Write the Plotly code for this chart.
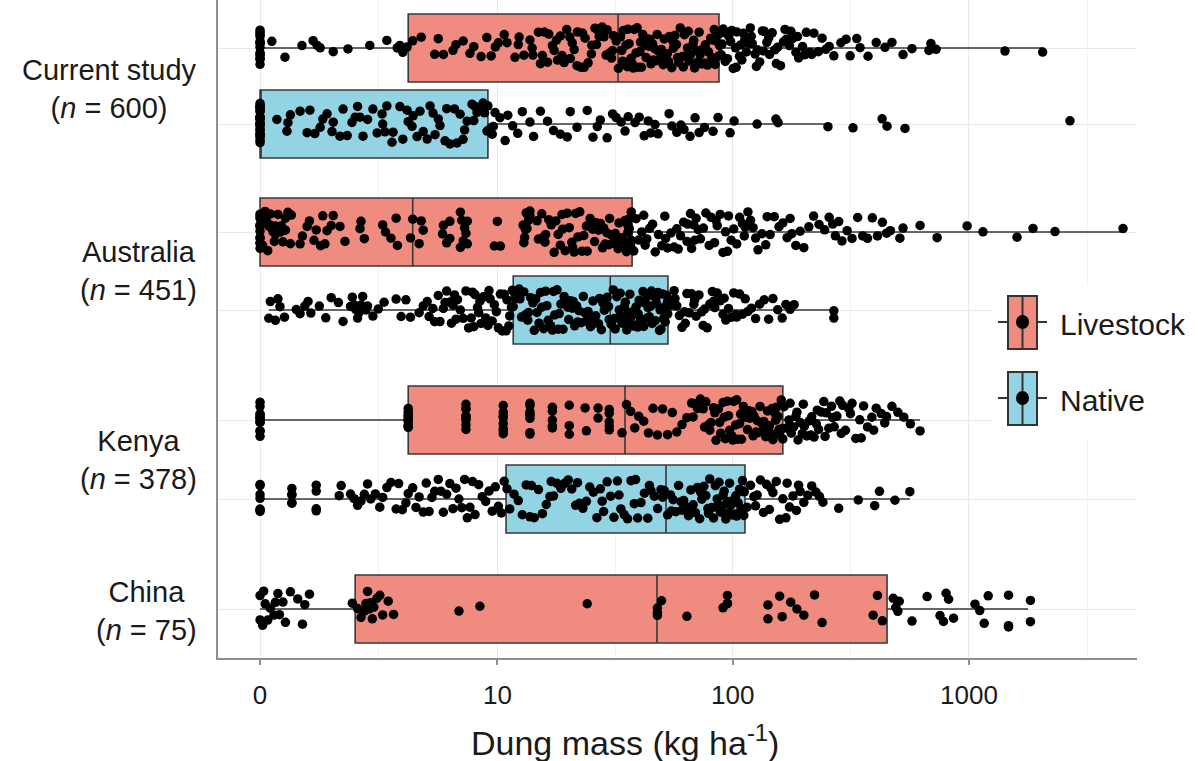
import numpy as np
import plotly.graph_objects as go

# ---------------- data (dung mass, kg ha-1) ----------------
countries = ["Current study", "Australia", "Kenya", "China"]
country_n = [600, 451, 378, 75]
row_country = ["Current study", "Current study", "Australia", "Australia", "Kenya", "Kenya", "China"]
row_type = ["Livestock", "Native", "Livestock", "Native", "Livestock", "Native", "Livestock"]

box_lower = [0, 0, 0, 0.17, 0, 0, 0]
box_q1 = [4.0, 0, 0, 11.7, 4.0, 10.9, 2.13]
box_median = [32.7, 0, 4.2, 30.3, 35.0, 52.2, 47.8]
box_q3 = [87.5, 9.1, 37.5, 53.2, 163, 112.7, 450]
box_upper = [2050, 253, 4570, 271, 621, 562, 1778]

cs_livestock = [
    0, 0, 0, 0, 0, 0, 0, 0, 0, 0, 0, 0, 0, 0,
    0.23, 0.49, 0.84, 1.08, 1.17, 1.24, 1.55, 1.93, 2.57, 3.15, 3.54, 3.65, 3.77, 3.95,
    4.2, 4.6, 5.3, 5.5, 5.8, 6.4, 6.6, 7.1, 7.6, 7.9, 8.5, 9.0, 9.4, 9.8, 10.1,
    10.7, 11.0, 11.9, 12.3, 12.4, 13.0, 13.8, 14.1, 14.2, 15.0, 15.3, 15.9, 16.4, 16.6, 17.2,
    17.5, 17.9, 18.6, 18.9, 19.3, 19.8, 20.4, 20.5, 21.3, 21.9, 22.0, 22.8, 23.5, 23.7, 24.4,
    25.2, 25.3, 26.1, 26.9, 27.2, 27.8, 28.5, 29.1, 29.4, 30.2, 31.0, 31.3, 32.1, 32.8,
    33.5, 34.2, 34.4, 35.3, 36.0, 36.4, 37.1, 37.9, 38.3, 39.0, 39.8, 40.5, 40.7, 41.6, 42.3,
    42.9, 43.5, 44.6, 45.1, 45.8, 46.7, 47.4, 48.2, 48.9, 49.9, 50.8, 51.3, 52.4, 53.5, 54.0,
    55.2, 56.1, 57.0, 57.8, 59.1, 60.0, 61.2, 62.5, 63.1, 64.4, 65.6, 66.2, 67.9, 69.0, 70.3,
    71.5, 72.8, 74.1, 75.0, 76.6, 78.2, 79.0, 80.7, 82.4, 83.5, 85.1, 86.9, 88.0,
    89.5, 91.2, 93.0, 94.1, 96.3, 98.0, 100.5, 102.8, 104.0, 106.9, 109.3, 111.0, 114.2,
    116.5, 118.8, 121.0, 124.4, 127.3, 130.1, 133.6, 136.0, 139.5, 143.2, 147.0, 150.8,
    155.1, 159.4, 164.0, 168.3, 173.9, 179.0, 185.2, 190.1, 197.5, 205.0, 212.3, 220.6,
    239, 256, 302, 314, 346, 374, 441, 472, 526, 574, 677, 690, 726, 1420, 2050,
    15.6, 18.1, 20.9, 23.1, 26.5, 28.0, 30.7, 33.9, 35.8, 37.5, 39.4, 41.1, 43.0, 44.1,
    46.2, 47.9, 50.3, 52.9, 55.7, 58.4, 61.8, 64.9, 68.4, 72.1, 76.0, 81.5, 84.3, 87.4,
    90.2, 95.0, 99.1, 103.4, 108.0, 112.6, 119.9, 126.0, 134.8, 142.1, 153.0, 166.5,
    176.4, 188.0, 201.3, 216.0, 230.5, 248, 268, 287, 335, 405,
]

cs_native = [
    0, 0, 0, 0, 0, 0, 0, 0, 0, 0, 0, 0, 0, 0, 0, 0, 0, 0, 0, 0, 0, 0, 0, 0, 0,
    0.33, 0.53, 0.55, 0.8, 0.95, 1.01, 1.12, 1.24, 1.40, 1.52, 1.55, 1.72, 1.80, 1.91,
    2.04, 2.13, 2.27, 2.36, 2.5, 2.67, 2.81, 2.98, 3.08, 3.15, 3.34, 3.38, 3.65, 3.77,
    3.95, 4.17, 4.22, 4.40, 4.54, 4.9, 5.05, 5.21, 5.32, 5.60, 5.90, 6.0, 6.21, 6.67,
    6.88, 7.09, 7.39, 7.76, 7.9, 8.16, 8.40, 8.67, 9.02, 9.1, 9.29, 9.5, 9.77,
    10.26, 11.09, 11.64, 12.23, 13.8, 14.3, 15.3, 16.4, 17.4, 18.6, 19.9, 21.9, 24.2,
    25.6, 26.7, 27.5, 29.4, 32.1, 33.7, 36.1, 38.6, 40.2, 42.2, 43.9, 46.9, 48.3, 53.8,
    55.3, 60.4, 62.2, 66.0, 69.3, 72.1, 82.6, 86.7, 97.5, 101.4, 126.8, 152.4, 155.6,
    253, 323, 429, 450, 536, 2675,
    0.6, 1.3, 2.2, 3.0, 4.0, 4.7, 5.5, 6.5, 7.2, 8.0, 8.8, 9.6, 10.8, 12.8, 20.5, 31.0,
    35.0, 45.0, 58.0, 76.0,
]

au_livestock = [
    0, 0, 0, 0, 0, 0, 0, 0, 0, 0, 0, 0,
    0.1, 0.15, 0.2, 0.2, 0.25, 0.3, 0.3, 0.35, 0.4, 0.45, 0.5, 0.55, 0.6,
    0.8, 0.85, 0.95, 1.0, 1.1, 1.15, 1.25, 1.3, 1.35, 1.4, 1.5, 1.55,
    1.72, 1.85, 2.27, 2.3, 2.4, 3.0, 3.1, 3.3, 3.5, 3.55,
    4.1, 4.2, 4.5, 4.6, 4.7, 5.75, 5.8, 6.0, 6.2, 6.2,
    6.9, 6.9, 7.0, 7.1, 7.2, 7.3, 7.4, 7.4, 9.7, 10.0, 10.3,
    12.9, 13.0, 13.1, 13.2, 13.3, 13.4, 13.5, 13.6, 13.8, 13.8,
    14.8, 15.0, 15.5, 16.0, 16.1, 16.6, 17.0, 17.5, 17.8, 18.2, 18.6, 19.0, 19.5, 19.9,
    20.3, 20.8, 21.0, 21.6, 22.1, 22.5, 23.0, 23.4, 24.0, 24.2, 24.9, 25.5, 26.0, 26.4,
    27.0, 27.5, 28.1, 28.8, 29.3, 29.9, 30.5, 31.0, 31.8, 32.2, 33.0, 33.6, 34.4, 35.0,
    35.5, 35.9, 36.0, 36.5, 36.6, 37.0, 37.2, 37.3,
    38.1, 39.0, 40.0, 41.2, 42.0, 43.3, 44.5, 45.8, 47.0, 48.5, 50.1, 51.6, 53.0, 54.8,
    56.5, 58.0, 60.2, 62.0, 64.1, 64.5, 66.3, 67, 68.5, 69, 71.5, 73, 75.2, 77, 79.5, 81,
    83.8, 86, 88.5, 91, 93.2, 96, 98.5, 101, 104, 107, 110, 113, 116, 119, 122, 125, 128,
    133, 138, 144, 150, 157, 163, 170, 178, 185, 193, 200, 210, 220, 232, 245,
    256, 265, 272, 281, 290, 305, 320, 338, 355, 372, 390, 410, 430, 448, 465,
    510, 526, 621, 733, 982, 1146, 1597, 1866, 2312, 4487,
    0.05, 0.12, 0.18, 0.28, 0.42, 0.5, 0.62, 15.8, 18.9, 21.3, 25.1, 28.4, 30.1, 32.7,
    34.0, 36.2, 42.6, 52.0, 58.8, 70.0, 85.0, 95.0, 112, 140, 175,
]

au_native = [
    0.17, 0.2, 0.3, 0.35, 0.39, 0.48, 0.72, 0.8, 0.9, 0.97, 1.03,
    1.22, 1.37, 1.5, 1.68, 1.8, 2.0, 2.05, 2.1, 2.15, 2.2, 2.25, 2.3, 2.35, 2.45, 2.5,
    2.67, 2.85, 3.05, 3.5, 3.7, 3.9, 4.1, 4.5, 4.7, 4.9, 5.0, 5.2, 5.3,
    5.5, 5.6, 5.8, 5.9, 6.0, 6.2, 6.3, 6.5, 6.6, 6.7, 6.9, 7.1, 7.3, 7.5, 7.7, 7.8,
    8.0, 8.2, 8.3, 8.4, 8.5, 8.7, 8.9, 9.1, 9.3, 9.5, 9.7, 9.9, 10.1, 10.3, 10.5, 10.7,
    10.9, 11.0, 11.2, 11.3, 11.5, 11.6, 11.7, 11.8,
    11.9, 12.2, 12.4, 12.7, 13.0, 13.2, 13.5, 13.9, 14.2, 14.4, 14.8, 15.1, 15.5, 15.8,
    16.1, 16.5, 16.9, 17.2, 17.6, 18.0, 18.4, 18.7, 19.1, 19.6, 20.0, 20.5, 20.9, 21.4,
    21.8, 22.3, 22.8, 23.3, 23.9, 24.4, 25.0, 25.6, 26.3, 27.0, 27.8, 28.6, 29.4, 30.0,
    30.6, 31.2, 31.8, 32.3, 32.9, 33.4, 34.0, 34.5, 35.1, 35.6, 36.2, 36.7, 37.3, 37.9,
    38.5, 39.0, 39.6, 40.2, 40.8, 41.4, 42.0, 42.6, 43.2, 43.8, 44.4, 45.0, 45.6, 46.3,
    47.0, 47.6, 48.3, 49.0, 49.7, 50.4, 51.1, 51.8, 52.5, 53.1,
    55, 56.5, 58, 59.5, 61, 62.5, 64, 65.5, 67, 68.5, 70, 72, 74, 76, 78, 80, 82, 84, 86,
    88.5, 91, 93.5, 96, 98.5, 101, 104, 107, 110, 113, 116,
    120, 125, 130, 136, 142, 148, 155, 162, 168, 175, 182, 268, 268,
    12.5, 13.6, 14.6, 15.3, 16.3, 17.4, 18.2, 19.3, 20.2, 21.1, 22.0, 23.6, 24.7, 26.0,
    27.3, 28.2, 29.8, 31.5, 33.1, 34.8, 36.4, 38.2, 39.8, 41.7, 43.5, 45.3, 47.3, 49.3,
    51.5, 53.0, 57, 63, 69, 75, 83, 92, 103, 6.4, 7.9, 9.2,
]

ke_livestock = [
    0, 0, 0, 0, 0, 0, 0, 0, 0, 0, 0, 0,
    4.0, 4.0, 4.0, 4.0, 4.0, 4.0, 4.0, 4.0, 4.0, 4.0,
    7.3, 7.3, 7.3, 7.3, 7.3, 7.3, 7.3, 7.3, 7.3,
    10.6, 10.6, 10.6, 10.6, 10.6, 10.6, 10.6, 10.6,
    13.8, 13.8, 13.8, 13.8, 13.8, 13.8, 13.8, 13.8,
    17.2, 17.2, 17.2, 17.2, 17.2, 20.3, 20.3, 20.3, 23.7, 24.0, 26.9, 26.9,
    30.0, 30.0, 30.0, 30.0, 30.0,
    34, 35.5, 37, 38.5, 40, 42, 44, 46, 48, 50.5, 53, 55.5, 58, 61, 64,
    67, 69, 71, 73, 75, 77, 79, 81, 83, 85, 87, 89, 91, 93, 95, 97, 99, 101, 103, 105,
    107, 109, 111, 113, 115.5, 118, 120.5, 123, 125.5, 128, 130.5, 133, 135.5, 138,
    140.5, 143, 145.5, 148, 150.5, 153, 155.5, 158, 160.5, 162,
    165, 169, 173, 177, 181, 185, 189, 193, 197, 201, 206, 211, 216, 221, 226, 231, 237,
    243, 249, 255, 262, 269, 276, 284, 292, 300, 310, 320, 332, 345, 358, 372, 388, 405,
    425, 448, 472, 500, 530, 565, 621,
    68, 72, 76, 80, 84, 88, 92, 96, 100, 104, 108, 112, 117, 122, 127, 132, 137, 142,
    147, 152, 157, 163, 175, 187, 199, 214, 228, 246, 265, 288, 315, 350, 395, 440,
]

ke_native = [
    0, 0, 0, 0, 0, 0, 0, 0.63, 0.63, 0.63, 0.63, 0.63, 1.15, 1.15, 1.15, 1.15, 1.70, 1.75,
    2.0, 2.1, 2.2, 2.3, 2.4, 2.5, 2.6, 2.75, 2.9, 3.0, 3.15, 3.3,
    3.5, 3.6, 3.75, 3.9, 4.0, 4.2, 4.35, 4.5, 4.7, 4.85,
    5.0, 5.15, 5.3, 5.5, 5.65, 5.8, 6.0, 6.2, 6.4, 6.6, 6.8, 7.0, 7.2, 7.4, 7.6,
    7.8, 8.0, 8.3, 8.6, 8.9, 9.2, 9.5, 9.8, 10.1, 10.4, 10.7, 11.0,
    11.3, 11.8, 12.3, 12.8, 13.3, 13.8, 14.4, 15.0, 15.6, 16.2, 16.8, 17.4, 18.0, 18.7,
    19.4, 20.1, 20.8, 21.6, 22.4, 23.2, 24.0, 24.8, 25.7, 26.6, 27.5, 28.4, 29.4, 30.4,
    31.4, 32.5, 33.6, 34.7, 35.9, 37.1, 38.3, 39.6, 40.9, 42.3, 43.7, 45.1, 46.6, 48.1,
    49.7, 51.3,
    53, 54.5, 56, 57.5, 59, 60.5, 62, 63.5, 65, 66.5, 68, 69.5, 71, 72.5, 74, 75.5, 77,
    78.5, 80, 81.5, 83, 84.5, 86, 87.5, 89, 90.5, 92, 93.5, 95, 96.5, 98, 99.5, 101,
    102.5, 104, 105.5, 107, 108.5, 110, 111.5,
    115, 119, 123, 127, 131, 135, 139, 143, 148, 153, 158, 163, 168, 174, 180, 186, 193,
    200, 208, 216, 225, 233, 241, 281, 340, 399, 418, 486, 562,
    14.0, 17.0, 22.0, 28.0, 33.0, 38.8, 44.4, 50.5, 55, 61, 67, 73, 79, 85, 91, 97, 103,
    109, 112, 125, 145, 170, 190,
]

cn_livestock = [
    0, 0, 0.05, 0.07, 0.1, 0.15, 0.2, 0.27, 0.3, 0.35, 0.38, 0.45, 0.5, 0.6, 0.75, 0.85, 0.9, 1.0,
    2.05, 2.2, 2.3, 2.4, 2.45, 2.5, 2.55, 2.6, 2.65, 2.7, 2.8, 2.9, 3.0, 3.2, 3.4,
    6.8, 8.4, 24.2, 48, 48, 48, 50, 64, 91, 95, 95, 95, 141, 141, 158, 162, 176, 187,
    200, 222, 239, 393, 410, 430, 478, 490, 500, 507, 574, 665, 754, 780, 800, 820, 860,
    1060, 1110, 1160, 1206, 1470, 1470, 1470, 1820, 1820,
]

row_values = [cs_livestock, cs_native, au_livestock, au_native, ke_livestock, ke_native, cn_livestock]

tick_values = [0, 10, 100, 1000]
tick_labels = ["0", "10", "100", "1000"]

# ---------------- layout constants ----------------
FONT = "Liberation Sans, Arial, sans-serif"
COLORS = {"Livestock": "#EF8C7F", "Native": "#93D4E4"}
ROW_Y = [48, 124, 232, 310, 420, 499, 609]
GROUP_Y = [89, 271, 460, 611]
BOX_W = 68
W, H = 1198, 761
PL, PR, PT, PB = 218, 1137, 0, 658


def pseudo_log10(v):
    """pseudo-log transform (sigma = 1, base 10)."""
    return np.arcsinh(np.asarray(v, dtype=float) / 2.0) / np.log(10)


fig = go.Figure()

for i in range(len(row_type)):
    col = COLORS[row_type[i]]
    fig.add_trace(go.Box(
        y=[ROW_Y[i]], orientation="h",
        q1=pseudo_log10([box_q1[i]]), median=pseudo_log10([box_median[i]]),
        q3=pseudo_log10([box_q3[i]]), lowerfence=pseudo_log10([box_lower[i]]),
        upperfence=pseudo_log10([box_upper[i]]),
        width=BOX_W, whiskerwidth=0, fillcolor=col,
        line=dict(color="#383838", width=1.6), boxpoints=False,
        showlegend=False, hoverinfo="skip",
    ))
    vals = row_values[i]
    fig.add_trace(go.Box(
        x=pseudo_log10(vals), y=[ROW_Y[i]] * len(vals), orientation="h",
        boxpoints="all", jitter=0.62, pointpos=0, width=BOX_W, whiskerwidth=0,
        fillcolor="rgba(0,0,0,0)", line=dict(color="rgba(0,0,0,0)", width=0),
        marker=dict(color="black", size=9.5, line=dict(width=0)),
        showlegend=False, hoveron="points",
    ))

tv = pseudo_log10(tick_values)
minor_vals = [(tv[k] + tv[k + 1]) / 2 for k in range(len(tv) - 1)] + [tv[-1] + (tv[-1] - tv[-2]) / 2]

fig.update_layout(
    width=W, height=H, margin=dict(l=PL, r=W - PR, t=PT, b=H - PB),
    plot_bgcolor="white", paper_bgcolor="white", boxmode="overlay",
    font=dict(family=FONT, color="#1a1a1a"),
    xaxis=dict(
        range=[-0.178, 3.711], tickmode="array", tickvals=tv, ticktext=tick_labels,
        showgrid=True, gridcolor="#e9e9e9", gridwidth=1, zeroline=False,
        showline=True, linecolor="#8f8f8f", linewidth=2,
        ticks="outside", ticklen=5, tickcolor="#8f8f8f", tickwidth=1.5,
        tickfont=dict(size=26, family=FONT, color="#1a1a1a"), ticklabelstandoff=8,
        minor=dict(tickvals=minor_vals, showgrid=True, gridcolor="#f2f2f2", gridwidth=1, ticks=""),
    ),
    yaxis=dict(
        range=[PB, PT], tickmode="array", tickvals=ROW_Y, showticklabels=False,
        showgrid=True, gridcolor="#e9e9e9", gridwidth=1, zeroline=False,
        showline=True, linecolor="#8f8f8f", linewidth=2, ticks="",
    ),
)


def px_x(x):
    return (x - PL) / (PR - PL)


def px_y(y):
    return (PB - y) / (PB - PT)


annotations = []
for c, n, gy in zip(countries, country_n, GROUP_Y):
    annotations.append(dict(
        text=f"{c}<br>(<i>n</i> = {n})", xref="paper", yref="y", x=px_x(199), y=gy,
        xanchor="right", yanchor="middle", align="center", showarrow=False,
        font=dict(size=29, family=FONT, color="#1a1a1a"),
    ))
annotations.append(dict(
    text="Dung mass (kg ha<sup>-1</sup>)", xref="paper", yref="paper",
    x=px_x(625), y=px_y(740), xanchor="center", yanchor="middle", showarrow=False,
    font=dict(size=34, family=FONT, color="#1a1a1a"),
))

shapes = [dict(type="rect", xref="paper", yref="paper", x0=px_x(992), x1=px_x(1196),
               y0=px_y(285), y1=px_y(440), fillcolor="white", line=dict(width=0), layer="above")]
for label, cy in [("Livestock", 322), ("Native", 398)]:
    col = COLORS[label]
    shapes.append(dict(type="line", xref="paper", yref="paper", x0=px_x(998), x1=px_x(1047),
                       y0=px_y(cy), y1=px_y(cy), line=dict(color="#333333", width=2), layer="above"))
    shapes.append(dict(type="rect", xref="paper", yref="paper", x0=px_x(1008), x1=px_x(1037),
                       y0=px_y(cy - 26), y1=px_y(cy + 27), fillcolor=col,
                       line=dict(color="#333333", width=2), layer="above"))
    shapes.append(dict(type="line", xref="paper", yref="paper", x0=px_x(1022.5), x1=px_x(1022.5),
                       y0=px_y(cy - 26), y1=px_y(cy + 27), line=dict(color="#333333", width=2), layer="above"))
    shapes.append(dict(type="circle", xref="paper", yref="paper", x0=px_x(1016), x1=px_x(1029),
                       y0=px_y(cy - 7), y1=px_y(cy + 7), fillcolor="black", line=dict(width=0), layer="above"))
    annotations.append(dict(
        text=label, xref="paper", yref="paper", x=px_x(1058), y=px_y(cy + 2),
        xanchor="left", yanchor="middle", showarrow=False,
        font=dict(size=30, family=FONT, color="#1a1a1a"),
    ))

fig.update_layout(annotations=annotations, shapes=shapes)
fig.write_html("out.html")
